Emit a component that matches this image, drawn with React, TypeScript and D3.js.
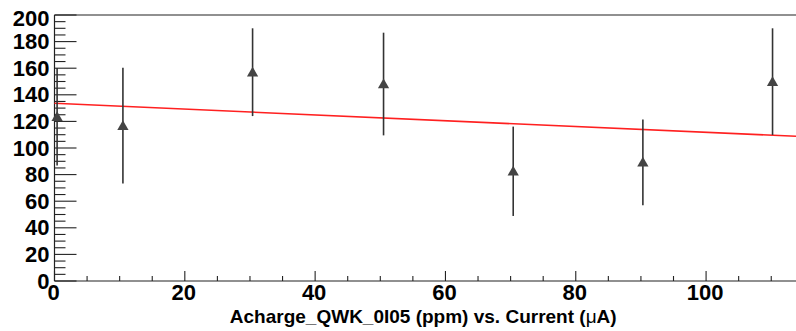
import React from "react";
import * as d3 from "d3";

const currents = [0.4, 10.5, 30.4, 50.5, 70.4, 90.3, 110.2];
const values = [123.5, 116.8, 157.0, 148.1, 82.5, 89.2, 149.9];
const errors = [36.6, 43.5, 33.0, 38.6, 33.6, 32.3, 40.1];
const fitIntercept = 133.6;
const fitSlope = -0.218;
const xTicks = [0, 20, 40, 60, 80, 100];
const yTicks = [0, 20, 40, 60, 80, 100, 120, 140, 160, 180, 200];
const xTitle = "Acharge_QWK_0I05 (ppm) vs. Current (";

const W = 796;
const H = 331;
const L = 54.5;
const R = 796;
const T = 15;
const B = 281;

export default function App() {
  const x = d3.scaleLinear().domain([0, 113.8]).range([L, R]);
  const y = d3.scaleLinear().domain([0, 200]).range([B, T]);
  const xMinor = d3.range(0, 114, 5);
  const yMinor = d3.range(0, 201, 5);
  const font = "'Liberation Sans', Arial, Helvetica, sans-serif";
  const tri = d3.symbol().type(d3.symbolTriangle).size(55);
  const fitLine = d3.line<number>().x((v) => x(v)).y((v) => y(fitIntercept + fitSlope * v));
  return (
    <svg width={W} height={H} style={{ position: "fixed", left: 0, top: 0, background: "#fff" }}>
      <rect x={0} y={0} width={W} height={H} fill="#fff" />
      {/* frame */}
      <line x1={L} y1={T} x2={R} y2={T} stroke="#222" strokeWidth={1.2} />
      <line x1={L} y1={T} x2={L} y2={B} stroke="#222" strokeWidth={1.2} />
      <line x1={L} y1={B} x2={R} y2={B} stroke="#222" strokeWidth={1.2} />
      {/* y ticks */}
      {yMinor.map((v) => (
        <line key={"ym" + v} x1={L} x2={L + (v % 20 === 0 ? 22 : 11)} y1={y(v)} y2={y(v)} stroke="#222" strokeWidth={1.1} />
      ))}
      {xMinor.map((v) => (
        <line key={"xm" + v} x1={x(v)} x2={x(v)} y1={B} y2={B - (v % 20 === 0 ? 10 : 5)} stroke="#222" strokeWidth={1.1} />
      ))}
      {yTicks.map((v) => (
        <text key={"yl" + v} x={49.5} y={y(v) + (v === 200 ? 3 : 0)} textAnchor="end" dominantBaseline="central"
          fontFamily={font} fontWeight="bold" fontSize={22} fill="#000">{v}</text>
      ))}
      {xTicks.map((v) => (
        <text key={"xl" + v} x={x(v) - 1} y={300} textAnchor="middle"
          fontFamily={font} fontWeight="bold" fontSize={22} fill="#000">{v}</text>
      ))}
      {/* fit */}
      <path d={fitLine([0, 113.8]) || ""} fill="none" stroke="#ff2020" strokeWidth={1.6} />
      {/* points */}
      {currents.map((c, i) => (
        <g key={"p" + i}>
          <line x1={x(c)} x2={x(c)} y1={y(values[i] + errors[i])} y2={y(values[i] - errors[i])} stroke="#333" strokeWidth={1.6} />
          <path d={tri() || ""} transform={`translate(${x(c)},${y(values[i]) + 1})`} fill="#444" />
        </g>
      ))}
      <text x={(L + R) / 2 - 2} y={323} textAnchor="middle" fontFamily={font} fontWeight="bold" fontSize={19} fill="#000">
        {xTitle}
        <tspan fontWeight="normal">μ</tspan>A)
      </text>
    </svg>
  );
}
